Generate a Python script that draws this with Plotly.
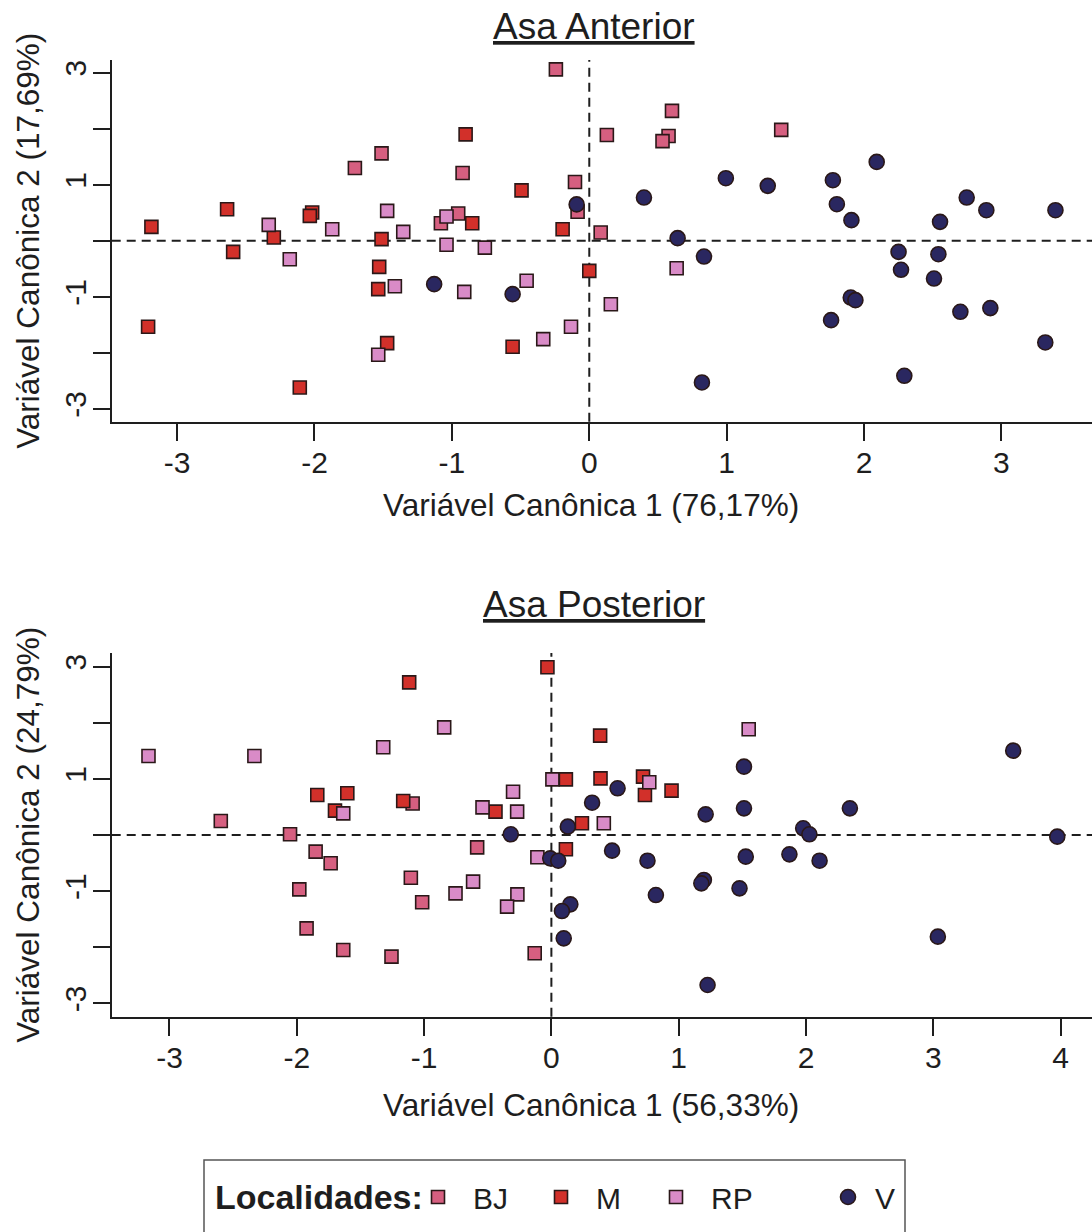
import plotly.graph_objects as go

# ---------------- data: Asa Anterior ----------------
ant_bj_x = [-0.243, -1.512, -1.706, -0.922, -0.104, -0.085, -1.08, -0.954, 0.083, 0.602, 0.128, 0.577, 0.533, 1.397]
ant_bj_y = [3.06, 1.56, 1.30, 1.21, 1.05, 0.52, 0.315, 0.488, 0.149, 2.32, 1.89, 1.87, 1.78, 1.98]

ant_m_x = [-0.90, -0.493, -2.636, -3.187, -2.017, -2.034, -2.296, -2.592, -1.512, -0.852, -1.529, -1.536, -0.194, 0.0, -3.211, -1.471, -2.107, -0.558]
ant_m_y = [1.90, 0.90, 0.565, 0.25, 0.505, 0.446, 0.06, -0.196, 0.03, 0.315, -0.464, -0.862, 0.208, -0.535, -1.534, -1.825, -2.616, -1.89]

ant_rp_x = [-2.333, -2.18, -1.871, -1.471, -1.354, -1.039, -1.039, -0.76, -1.415, -0.91, -0.456, -1.536, -0.335, -0.133, 0.636, 0.157]
ant_rp_y = [0.285, -0.327, 0.208, 0.535, 0.16, 0.434, -0.07, -0.12, -0.809, -0.91, -0.713, -2.033, -1.754, -1.534, -0.488, -1.13]

ant_v_x = [-1.129, -0.558, -0.092, 0.398, 0.994, 1.299, 1.773, 2.092, 1.802, 1.908, 0.643, 0.835, 2.251, 2.269, 2.541, 2.509, 2.553, 2.747, 2.89, 3.393, 1.903, 1.937, 1.76, 2.701, 2.919, 3.319, 0.82, 2.293]
ant_v_y = [-0.773, -0.951, 0.65, 0.773, 1.118, 0.981, 1.082, 1.409, 0.654, 0.369, 0.048, -0.28, -0.196, -0.517, -0.238, -0.672, 0.339, 0.773, 0.547, 0.547, -1.011, -1.058, -1.415, -1.266, -1.2, -1.813, -2.527, -2.408]

# ---------------- data: Asa Posterior ----------------
pos_bj_x = [-2.597, -2.053, -1.09, -0.583, -1.852, -1.734, -1.98, -1.923, -1.635, -1.256, -1.104, -1.015, -0.131]
pos_bj_y = [0.25, 0.012, 0.56, -0.22, -0.297, -0.505, -0.969, -1.664, -2.05, -2.169, -0.761, -1.2, -2.109]

pos_m_x = [-1.117, -0.031, -1.839, -1.603, -1.7, -1.164, -0.439, 0.383, 0.114, 0.386, 0.72, 0.735, 0.944, 0.24, 0.114]
pos_m_y = [2.721, 2.989, 0.713, 0.743, 0.434, 0.606, 0.416, 1.771, 0.992, 1.01, 1.04, 0.713, 0.79, 0.208, -0.255]

pos_rp_x = [-3.165, -2.333, -0.842, -1.321, 0.008, -1.635, -0.541, -0.301, -0.269, -0.753, -0.615, -0.267, -0.348, -0.11, 1.55, 0.769, 0.412]
pos_rp_y = [1.408, 1.408, 1.919, 1.563, 0.992, 0.386, 0.493, 0.772, 0.416, -1.04, -0.832, -1.058, -1.277, -0.398, 1.884, 0.939, 0.208]

pos_v_x = [-0.319, 0.52, 0.32, 0.129, -0.009, 0.054, 0.477, 0.755, 1.513, 1.513, 1.212, 2.345, 1.978, 2.027, 1.527, 1.87, 2.107, 3.974, 3.628, 1.198, 1.178, 1.478, 0.821, 0.149, 0.083, 0.097, 3.036, 1.227]
pos_v_y = [0.012, 0.832, 0.576, 0.149, -0.416, -0.458, -0.279, -0.458, 1.218, 0.475, 0.368, 0.475, 0.119, 0.012, -0.386, -0.345, -0.458, -0.03, 1.503, -0.802, -0.862, -0.951, -1.07, -1.236, -1.355, -1.842, -1.812, -2.674]

groups = ["BJ", "M", "RP", "V"]
colors = {"BJ": "#D65F80", "M": "#D2302A", "RP": "#D98BC7", "V": "#2A2760"}
symbols = {"BJ": "square", "M": "square", "RP": "square", "V": "circle"}
sizes = {"BJ": 13, "M": 13, "RP": 13, "V": 15}

y_tickvals = [-3, -2, -1, 0, 1, 2, 3]
y_ticktext = ["-3", "", "-1", "", "1", "", "3"]
ant_xticks = [-3, -2, -1, 0, 1, 2, 3]
pos_xticks = [-3, -2, -1, 0, 1, 2, 3, 4]

titles = ["Asa Anterior", "Asa Posterior"]
xtitles = ["Variável Canônica 1 (76,17%)", "Variável Canônica 1 (56,33%)"]
ytitles = ["Variável Canônica 2 (17,69%)", "Variável Canônica 2 (24,79%)"]
legend_title = "Localidades:"

panels = [
    {"BJ": (ant_bj_x, ant_bj_y), "M": (ant_m_x, ant_m_y), "RP": (ant_rp_x, ant_rp_y), "V": (ant_v_x, ant_v_y)},
    {"BJ": (pos_bj_x, pos_bj_y), "M": (pos_m_x, pos_m_y), "RP": (pos_rp_x, pos_rp_y), "V": (pos_v_x, pos_v_y)},
]

W, H = 1092, 1232
FONT = "Liberation Sans, Arial, Helvetica, sans-serif"
INK = "#1e1e1e"

# one legend per key so each key can sit where the original puts it
legend_ids = {"BJ": "legend", "M": "legend2", "RP": "legend3", "V": "legend4"}
legend_sym_px = {"BJ": 438, "M": 561, "RP": 676, "V": 848}   # centre of each key symbol (px)
legend_itemw = {"BJ": 60, "M": 60, "RP": 60, "V": 44}

fig = go.Figure()
for i, panel in enumerate(panels):
    xa = "x" if i == 0 else "x2"
    ya = "y" if i == 0 else "y2"
    for g in groups:
        gx, gy = panel[g]
        fig.add_trace(go.Scatter(
            x=gx, y=gy, mode="markers", name=g, legendgroup=g,
            showlegend=(i == 0), legend=legend_ids[g], xaxis=xa, yaxis=ya,
            marker=dict(symbol=symbols[g], size=sizes[g], color=colors[g],
                        line=dict(color="#2a1818", width=1.6)),
            hoverinfo="skip",
        ))

left_px = 111.7
top1, bot1 = 60.0, 421.7
top2, bot2 = 653.0, 1016.7

def pdom(top, bot):
    return [1 - bot / H, 1 - top / H]

axis_common = dict(
    showline=True, linecolor=INK, linewidth=2, mirror=False,
    ticks="outside", ticklen=17, tickwidth=2, tickcolor=INK,
    showgrid=False, zeroline=False,
    tickfont=dict(family=FONT, size=30, color=INK),
)

legend_layout = {}
for g in groups:
    iw = legend_itemw[g]
    lx = (legend_sym_px[g] - (5 + iw / 2)) / W
    legend_layout[legend_ids[g]] = dict(
        orientation="h", x=lx, y=1 - 1197 / H, xanchor="left", yanchor="middle",
        bgcolor="rgba(0,0,0,0)", borderwidth=0,
        font=dict(family=FONT, size=30, color=INK),
        itemwidth=iw,
    )

fig.update_layout(
    width=W, height=H,
    margin=dict(l=0, r=0, t=0, b=0, autoexpand=False),
    paper_bgcolor="white", plot_bgcolor="white",
    font=dict(family=FONT, color=INK),
    xaxis=dict(domain=[left_px / W, 1], range=[-3.476, 3.659], anchor="y",
               tickvals=ant_xticks, ticktext=[str(v) for v in ant_xticks],
               ticklabelstandoff=-4, **axis_common),
    yaxis=dict(domain=pdom(top1, bot1), range=[-3.227, 3.227], anchor="x",
               tickvals=y_tickvals, ticktext=y_ticktext, tickangle=-90,
               ticklabelstandoff=-5, **axis_common),
    xaxis2=dict(domain=[left_px / W, 1], range=[-3.454, 4.247], anchor="y2",
                tickvals=pos_xticks, ticktext=[str(v) for v in pos_xticks],
                ticklabelstandoff=-4, **axis_common),
    yaxis2=dict(domain=pdom(top2, bot2), range=[-3.239, 3.244], anchor="x2",
                tickvals=y_tickvals, ticktext=y_ticktext, tickangle=-90,
                ticklabelstandoff=-5, **axis_common),
    showlegend=True,
    **legend_layout,
)

# dashed reference lines through the origin
for xa, ya in [("x", "y"), ("x2", "y2")]:
    fig.add_shape(type="line", xref=f"{xa} domain", yref=ya, x0=0, x1=1, y0=0, y1=0,
                  line=dict(color=INK, width=2, dash="9px,6px"), layer="below")
    fig.add_shape(type="line", xref=xa, yref=f"{ya} domain", x0=0, x1=0, y0=0, y1=1,
                  line=dict(color=INK, width=2, dash="9px,6px"), layer="below")

# legend frame (bottom edge runs off the page as in the original)
fig.add_shape(type="rect", xref="paper", yref="paper",
              x0=204 / W, x1=905 / W, y0=1 - 1250 / H, y1=1 - 1160 / H,
              line=dict(color="#555", width=1.5), fillcolor="rgba(0,0,0,0)")
fig.add_annotation(text=f"<b>{legend_title}</b>", xref="paper", yref="paper",
                   x=213 / W, y=1 - 1197 / H, showarrow=False,
                   xanchor="left", yanchor="middle",
                   font=dict(family=FONT, size=34, color=INK))

# titles and axis titles
title_y = [27, 604]
xtitle_y = [505, 1105]
ytitle_cy = [(top1 + bot1) / 2, (top2 + bot2) / 2]
for i in range(2):
    fig.add_annotation(text=f"<u>{titles[i]}</u>", xref="paper", yref="paper",
                       x=594 / W, y=1 - title_y[i] / H, showarrow=False,
                       xanchor="center", yanchor="middle",
                       font=dict(family=FONT, size=37, color=INK))
    fig.add_annotation(text=xtitles[i], xref="paper", yref="paper",
                       x=591 / W, y=1 - xtitle_y[i] / H, showarrow=False,
                       xanchor="center", yanchor="middle",
                       font=dict(family=FONT, size=31.5, color=INK))
    fig.add_annotation(text=ytitles[i], xref="paper", yref="paper",
                       x=28 / W, y=1 - ytitle_cy[i] / H, showarrow=False,
                       textangle=-90, xanchor="center", yanchor="middle",
                       font=dict(family=FONT, size=31.5, color=INK))

fig.write_html("out.html")
